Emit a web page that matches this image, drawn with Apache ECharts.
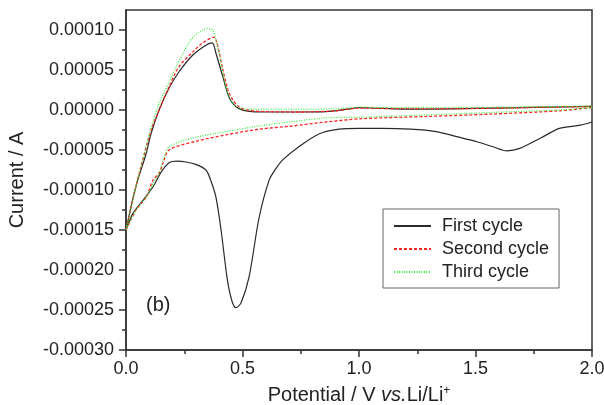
<!DOCTYPE html>
<html><head><meta charset="utf-8">
<script src="https://cdn.jsdelivr.net/npm/echarts@6/dist/echarts.min.js"></script>
<style>html,body{margin:0;padding:0;background:#fff}#c{width:604px;height:405px}</style>
</head><body><div id="c"></div>
<script>
// ---- data (potential in V, current in A) ----
const seriesNames = ['First cycle', 'Second cycle', 'Third cycle'];
const xTickValues = [0, 0.5, 1.0, 1.5, 2.0];
const yTickValues = [-0.0003, -0.00025, -0.0002, -0.00015, -0.0001, -0.00005, 0, 0.00005, 0.0001];

// First cycle: cathodic scan 2.0 -> 0, then anodic 0 -> 2.0
const firstPotential = [2.0, 1.95, 1.86, 1.78, 1.69, 1.635, 1.575, 1.51, 1.43, 1.33, 1.22, 1.1, 1.0, 0.914, 0.828, 0.742, 0.674, 0.644, 0.614, 0.571, 0.528, 0.494, 0.472, 0.455, 0.435, 0.408, 0.386, 0.365, 0.343, 0.30, 0.258, 0.22, 0.185, 0.15, 0.116, 0.073, 0.03, 0.0,
  0.043, 0.086, 0.107, 0.142, 0.185, 0.227, 0.288, 0.343, 0.37, 0.386, 0.416, 0.442, 0.472, 0.515, 0.6, 0.73, 0.86, 0.95, 1.0, 1.05, 1.2, 1.5, 1.8, 2.0];
const firstCurrent = [-0.000015, -0.000019, -0.000023, -0.000035, -0.000048, -0.000051, -0.000046, -0.00004, -0.000034, -0.000027, -0.000024, -0.000023, -0.000023, -0.000024, -0.00003, -0.000046, -0.000062, -0.000073, -0.000088, -0.000135, -0.000209, -0.000241, -0.000247, -0.000239, -0.000212, -0.00015, -0.000109, -0.000089, -0.000075, -0.000068, -0.000065, -0.000064, -0.000066, -0.000078, -0.000096, -0.000113, -0.000129, -0.00015,
  -0.000095, -0.000055, -0.00003, 0, 0.0000275, 0.0000475, 0.000069, 0.000081, 0.000084, 0.000071, 0.000041, 0.000016, 0.000004, -0.000001, -0.0000025, -0.0000025, -0.000002, 0.000001, 0.000003, 0.0000025, 0.000001, 0.000002, 0.0000035, 0.0000045];

const secondPotential = [2.0, 1.86, 1.575, 1.3, 1.004, 0.858, 0.714, 0.571, 0.429, 0.288, 0.185, 0.159, 0.142, 0.116, 0.086, 0.043, 0.0,
  0.043, 0.107, 0.142, 0.185, 0.227, 0.288, 0.33, 0.378, 0.39, 0.416, 0.438, 0.459, 0.485, 0.52, 0.6, 0.75, 0.9, 1.0, 1.1, 1.3, 1.6, 2.0];
const secondCurrent = [0.000003, -0.000001, -0.000005, -0.000008, -0.000011, -0.000015, -0.00002, -0.000024, -0.000031, -0.00004, -0.00005, -0.000066, -0.000079, -0.0000875, -0.000109, -0.000125, -0.00015,
  -0.000095, -0.000026, 0, 0.000029, 0.000054, 0.000073, 0.000084, 0.000091, 0.000084, 0.00005, 0.000025, 0.0000125, 0.000004, 0, -0.000002, -0.0000025, -0.000001, 0.0000025, 0.000002, 0.0000015, 0.0000025, 0.0000045];

const thirdPotential = [2.0, 1.86, 1.575, 1.3, 1.004, 0.858, 0.571, 0.429, 0.288, 0.185, 0.159, 0.142, 0.116, 0.086, 0.043, 0.0,
  0.043, 0.107, 0.142, 0.185, 0.215, 0.27, 0.30, 0.33, 0.35, 0.36, 0.373, 0.382, 0.399, 0.429, 0.45, 0.485, 0.55, 0.73, 0.9, 1.0, 1.2, 1.6, 2.0];
const thirdCurrent = [0.000003, 0, -0.000003, -0.000006, -0.000009, -0.00001, -0.00002, -0.000027, -0.000035, -0.000046, -0.000063, -0.000079, -0.000092, -0.000109, -0.000125, -0.00015,
  -0.000095, -0.000023, 0.000008, 0.000035, 0.000054, 0.000084, 0.000094, 0.0001, 0.000102, 0.000101, 0.0001, 0.000092, 0.000071, 0.000029, 0.000012, 0.0000025, 0.000001, 0.000001, 0.0000015, 0.0000035, 0.000003, 0.0000035, 0.000005];

// ---- chart ----
const FONT = '"Liberation Sans", Arial, Helvetica, sans-serif';
const zip = (xs, ys) => xs.map((x, i) => [x, ys[i]]);
const chart = echarts.init(document.getElementById('c'), null, {renderer: 'canvas'});
const axisColor = '#333';
chart.setOption({
  animation: false,
  backgroundColor: '#fff',
  grid: {left: 126, right: 12, top: 10, bottom: 55, containLabel: false, outerBoundsMode: 'none',
    show: true, borderColor: axisColor, borderWidth: 1.5, backgroundColor: 'transparent'},
  legend: {
    orient: 'vertical', left: 383, top: 209,
    itemWidth: 37, itemHeight: 14, itemGap: 5,
    padding: [8, 10, 7, 10],
    borderColor: '#666', borderWidth: 1, backgroundColor: '#fff',
    itemStyle: {opacity: 0},
    textStyle: {fontSize: 18, fontFamily: FONT, color: '#222', padding: [0, 0, 0, 6]},
    data: seriesNames
  },
  xAxis: {
    type: 'value', min: 0, max: 2, interval: 0.5,
    axisLine: {show: true, onZero: false, lineStyle: {color: axisColor, width: 1.5}},
    axisTick: {show: true, inside: false, length: 7, lineStyle: {color: axisColor, width: 1.5}},
    minorTick: {show: true, splitNumber: 2, length: 4, lineStyle: {color: axisColor, width: 1.5}},
    splitLine: {show: false},
    axisLabel: {margin: 10, fontSize: 18, fontFamily: FONT, color: '#222', formatter: v => v.toFixed(1)},
    name: '{a|Potential / V }{i|vs.}{a|Li/Li}{s|+}',
    nameLocation: 'middle', nameGap: 35,
    nameTextStyle: {
      rich: {
        a: {fontSize: 20, fontFamily: FONT, color: '#222'},
        i: {fontSize: 20, fontFamily: FONT, color: '#222', fontStyle: 'italic'},
        s: {fontSize: 12, fontFamily: FONT, color: '#222', verticalAlign: 'top', padding: [0, 0, 9, 0]}
      }
    }
  },
  yAxis: {
    type: 'value', min: -0.0003, max: 0.000125, interval: 0.00005,
    axisLine: {show: true, onZero: false, lineStyle: {color: axisColor, width: 1.5}},
    axisTick: {show: true, inside: false, length: 7, lineStyle: {color: axisColor, width: 1.5}, customValues: yTickValues},
    minorTick: {show: true, splitNumber: 2, length: 4, lineStyle: {color: axisColor, width: 1.5}},
    splitLine: {show: false},
    axisLabel: {margin: 12, fontSize: 18, fontFamily: FONT, color: '#222', customValues: yTickValues, formatter: v => v.toFixed(5)},
    name: 'Current / A', nameLocation: 'middle', nameGap: 99,
    nameTextStyle: {fontSize: 20, fontFamily: FONT, color: '#222'}
  },
  graphic: [{type: 'text', left: 146, top: 295, style: {text: '(b)', fontSize: 20, fontFamily: FONT, fill: '#222'}}],
  series: [
    {name: seriesNames[0], type: 'line', data: zip(firstPotential, firstCurrent), symbol: 'none', smooth: 0.3,
      lineStyle: {color: '#2a2a2a', width: 1.2}, itemStyle: {color: '#2a2a2a'}, z: 3},
    {name: seriesNames[1], type: 'line', data: zip(secondPotential, secondCurrent), symbol: 'none', smooth: 0.3,
      lineStyle: {color: '#ff2222', width: 1.3, type: [3, 2]}, itemStyle: {color: '#ff2222'}, z: 4},
    {name: seriesNames[2], type: 'line', data: zip(thirdPotential, thirdCurrent), symbol: 'none', smooth: 0.3,
      lineStyle: {color: '#33ee33', width: 1.2, type: [1, 1.5]}, itemStyle: {color: '#33ee33'}, z: 5}
  ]
});
</script></body></html>
